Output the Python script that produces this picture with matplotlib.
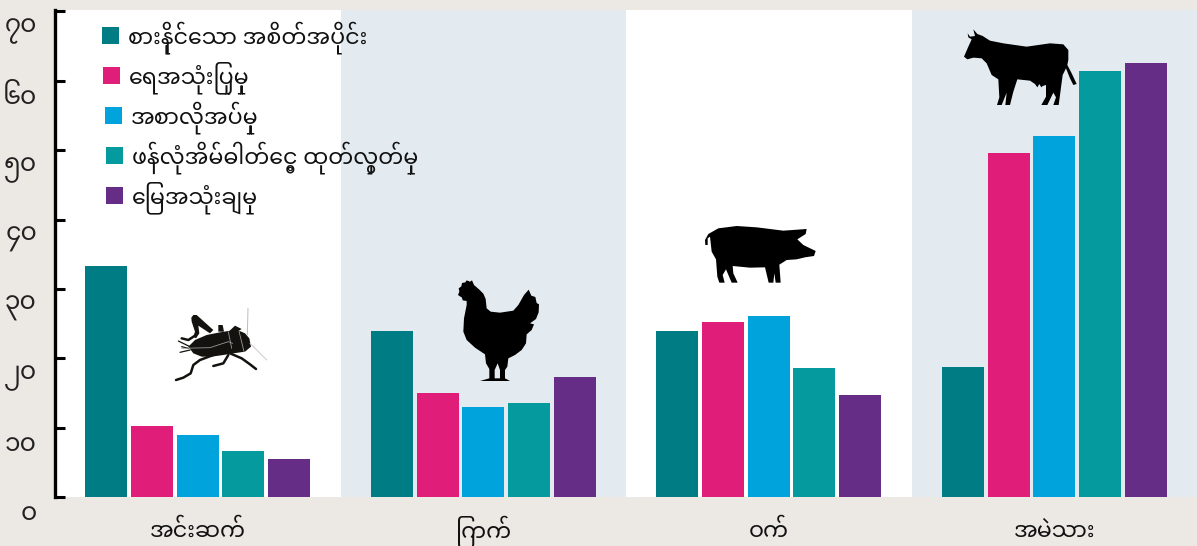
import re
import numpy as np
import matplotlib
matplotlib.use('Agg')
import matplotlib.pyplot as plt
from matplotlib.patches import Polygon, Rectangle
from matplotlib.transforms import ScaledTranslation

categories = ['အင်းဆက်', 'ကြက်', 'ဝက်', 'အမဲသား']
series_names = ['စားနိုင်သော အစိတ်အပိုင်း', 'ရေအသုံးပြုမှု', 'အစာလိုအပ်မှု',
                'ဖန်လုံအိမ်ဓါတ်ငွေ့ ထုတ်လွှတ်မှု', 'မြေအသုံးချမှု']
cricket = [33.3, 10.2, 8.9, 6.6, 5.5]
chicken = [24.0, 15.0, 13.0, 13.6, 17.3]
pig = [24.0, 25.2, 26.1, 18.6, 14.7]
cow = [18.7, 49.6, 52.0, 61.4, 62.5]
group_values = [cricket, chicken, pig, cow]
y_ticks = [0, 10, 20, 30, 40, 50, 60, 70]
y_labels = ['၀', '၁၀', '၂၀', '၃၀', '၄၀', '၅၀', '၆၀', '၇၀']
colors = ['#007d84', '#e01e7a', '#00a3dc', '#059a9e', '#652d86']

BG = '#ece8e4'
PANEL = '#e3ebf1'
W, H = 1197, 546

plt.rcParams['font.family'] = ['Noto Sans Myanmar', 'DejaVu Sans']


def visual(s):
    # matplotlib does no text shaping, so put the vowel and medial that draw to the left first
    s = re.sub('([\u1000-\u1021][\u103b-\u103e]*)\u1031', '\u1031\\1', s)
    return re.sub('([\u1000-\u1021])\u103c', '\u103c\\1', s)


fig = plt.figure(figsize=(W / 100, H / 100), dpi=100, facecolor=BG)
ax = fig.add_axes([55 / W, 1 - 497 / H, (W - 55) / W, 487 / H])
ax.set_xlim(-0.5, 3.5)
ax.set_ylim(0, 70.2)
ax.set_facecolor('white')

for i in (1, 3):
    ax.axvspan(i - 0.5, i + 0.5, color=PANEL, lw=0, zorder=0)

offsets = (np.arange(5) - 2) * 0.16
for i, vals in enumerate(group_values):
    ax.bar(i + offsets, vals, width=0.147, color=colors, zorder=2)

for s in ('top', 'right', 'bottom'):
    ax.spines[s].set_visible(False)
ax.spines['left'].set_linewidth(2.4)
ax.set_yticks(y_ticks)
ax.set_yticklabels([visual(t) for t in y_labels], fontsize=18, color='#222222')
ax.tick_params(axis='y', direction='in', length=7, width=2.2, pad=13)
# tick labels hang a little below their ticks
for lab in ax.get_yticklabels():
    lab.set_transform(lab.get_transform() + ScaledTranslation(0, -14 / 100, fig.dpi_scale_trans))
ax.set_xticks(range(4))
ax.set_xticklabels([visual(c) for c in categories], fontsize=16, color='#111111', va='baseline')
ax.tick_params(axis='x', length=0, pad=29)


def px(points):
    # picture pixels to figure fraction
    return [(x / W, 1 - y / H) for x, y in points]


# legend, each row sits slightly further right
leg_x = [102, 103, 105, 106, 106]
leg_y = [27, 67, 107, 147, 187]
for x, y, c, name in zip(leg_x, leg_y, colors, series_names):
    fig.add_artist(Rectangle((x / W, 1 - (y + 17) / H), 17 / W, 17 / H, color=c, lw=0,
                             transform=fig.transFigure, zorder=5))
    fig.text((x + 26) / W, 1 - (y + 11) / H, visual(name), fontsize=16, va='center', color='#111111', zorder=5)


def shape(points, ox, oy, color='black'):
    pts = [(ox + x / 3, oy + y / 3) for x, y in points]
    fig.add_artist(Polygon(px(pts), closed=True, facecolor=color, edgecolor='none',
                           transform=fig.transFigure, zorder=6))


def stroke(points, ox, oy, color, lw):
    pts = px([(ox + x / 3, oy + y / 3) for x, y in points])
    fig.add_artist(plt.Line2D([p[0] for p in pts], [p[1] for p in pts], color=color, lw=lw,
                              transform=fig.transFigure, zorder=6, solid_capstyle='round'))


# cow
shape([(1000, 58), (1012, 72), (1028, 78), (1050, 92), (1090, 100), (1160, 110), (1230, 100), (1270, 103),
       (1285, 120), (1285, 150), (1282, 165), (1295, 190), (1310, 222), (1300, 225), (1290, 205), (1278, 175),
       (1268, 195), (1262, 240), (1256, 285), (1240, 285), (1248, 262), (1240, 248), (1222, 285), (1204, 285),
       (1218, 260), (1218, 225), (1208, 228), (1204, 232), (1198, 222), (1192, 232), (1185, 222), (1170, 212),
       (1132, 208), (1120, 245), (1110, 285), (1096, 285), (1100, 248), (1085, 285), (1071, 285), (1078, 262),
       (1075, 208), (1055, 195), (1040, 160), (1025, 145), (1000, 143), (982, 148), (972, 140), (985, 110),
       (995, 88), (985, 82), (983, 70), (990, 80), (1005, 78)], 640, 10)
# pig
shape([(195, 690), (205, 672), (235, 655), (290, 648), (350, 652), (430, 662), (500, 657), (497, 672),
       (472, 688), (490, 705), (527, 723), (522, 738), (495, 742), (470, 748), (440, 750), (418, 764),
       (422, 818), (407, 818), (403, 790), (400, 818), (386, 818), (375, 772), (330, 773), (278, 768),
       (280, 790), (293, 818), (275, 818), (258, 778), (248, 795), (254, 818), (238, 818), (232, 800),
       (228, 748), (215, 725), (210, 680), (203, 685), (203, 705), (196, 705)], 640, 10)
# hen
shape([(24, 60), (28, 50), (26, 40), (34, 34), (36, 24), (46, 22), (50, 16), (60, 20), (66, 16), (72, 30),
       (88, 44), (100, 56), (107, 72), (110, 100), (122, 110), (150, 113), (190, 107), (205, 90), (222, 60),
       (236, 44), (244, 62), (256, 66), (260, 84), (267, 88), (266, 112), (258, 132), (240, 145), (252, 148),
       (245, 165), (230, 178), (228, 205), (215, 225), (195, 240), (175, 250), (172, 275), (165, 285),
       (165, 310), (180, 318), (90, 318), (118, 310), (118, 282), (108, 265), (105, 238), (75, 218), (50, 195),
       (40, 170), (42, 130), (50, 90), (50, 78), (38, 76), (36, 68)], 450, 275)
shape([(134, 285), (143, 265), (150, 285), (150, 310), (134, 310)], 450, 275, PANEL)
# cricket
INK = '#14120e'
shape([(55, 125), (75, 105), (110, 90), (150, 82), (175, 78), (205, 76), (225, 85), (238, 100), (243, 125),
       (225, 140), (190, 145), (160, 150), (125, 155), (95, 155), (70, 145)], 170, 305, INK)
shape([(70, 30), (80, 30), (130, 75), (120, 85), (85, 62), (88, 85), (78, 100), (70, 95), (75, 80), (65, 50),
       (64, 38)], 170, 305, INK)
shape([(145, 80), (145, 60), (158, 60), (162, 80)], 170, 305, INK)
shape([(178, 78), (195, 62), (215, 72), (205, 78)], 170, 305, INK)
for leg in ([(130, 150), (90, 165), (70, 180), (62, 205), (40, 218), (18, 225)],
            [(180, 145), (215, 160), (240, 178), (258, 192)],
            [(175, 150), (160, 175), (130, 183)],
            [(78, 90), (55, 105), (35, 100)]):
    stroke(leg, 170, 305, INK, 1.8)
for tail in ([(60, 125), (25, 108)], [(55, 130), (35, 125)], [(60, 135), (30, 142)]):
    stroke(tail, 170, 305, INK, 0.9)
stroke([(234, 10), (232, 90)], 170, 305, '#bbbbbb', 0.7)
stroke([(240, 115), (290, 165)], 170, 305, '#cccccc', 0.7)
stroke([(35, 130), (120, 128), (175, 110), (188, 115)], 170, 305, '#999999', 0.6)
stroke([(175, 80), (185, 130)], 170, 305, '#999999', 0.6)
stroke([(207, 78), (222, 140)], 170, 305, '#999999', 0.6)

fig.savefig('out.png', dpi=100, facecolor=BG)
